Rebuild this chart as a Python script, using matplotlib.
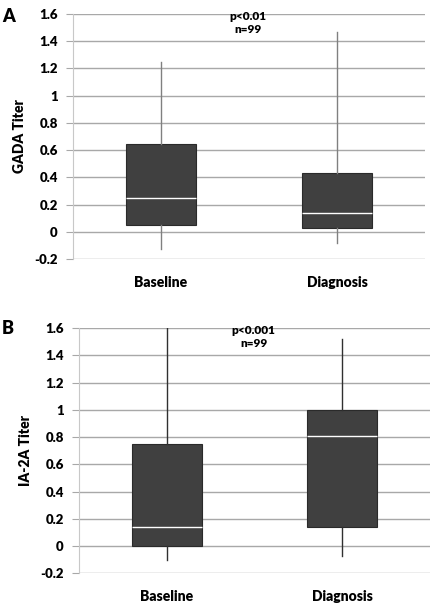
import matplotlib.pyplot as plt

plt.rcParams['font.family'] = ['Lato', 'DejaVu Sans']
plt.rcParams['font.weight'] = 'heavy'

groups = ['Baseline', 'Diagnosis']

# panel A - GADA titer (whisker low, q1, median, q3, whisker high)
gada_low = [-0.13, -0.08]
gada_q1 = [0.05, 0.03]
gada_med = [0.25, 0.14]
gada_q3 = [0.645, 0.43]
gada_high = [1.25, 1.47]

# panel B - IA-2A titer
ia2a_low = [-0.10, -0.07]
ia2a_q1 = [0.0, 0.14]
ia2a_med = [0.14, 0.81]
ia2a_q3 = [0.75, 1.0]
ia2a_high = [1.6, 1.52]

yticks = [-0.2, 0, 0.2, 0.4, 0.6, 0.8, 1, 1.2, 1.4, 1.6]
ytick_labels = ['-0.2', '0', '0.2', '0.4', '0.6', '0.8', '1', '1.2', '1.4', '1.6']

fig = plt.figure(figsize=(4.4, 6.03), dpi=100)
axA = fig.add_axes([0.166, 0.5705, 0.800, 0.4063])
axB = fig.add_axes([0.1795, 0.0492, 0.7977, 0.4068])


def draw(ax, low, q1, med, q3, high, ylabel, ptext, whisk_col):
    stats = []
    for i in range(len(groups)):
        stats.append(dict(whislo=low[i], q1=q1[i], med=med[i], q3=q3[i],
                          whishi=high[i], fliers=[], label=groups[i]))
    ax.bxp(stats, positions=[0.5, 1.5], widths=0.4, patch_artist=True,
           showcaps=False, showfliers=False,
           boxprops=dict(facecolor='#404040', edgecolor='#2a2a2a', linewidth=0.8),
           medianprops=dict(color='white', linewidth=1.0),
           whiskerprops=dict(color=whisk_col, linewidth=1.0))
    ax.set_xlim(0, 2)
    ax.set_ylim(-0.2, 1.6)
    ax.set_yticks(yticks)
    ax.set_yticklabels(ytick_labels, fontsize=9.5, fontweight='heavy')
    ax.yaxis.grid(True, color='#a8a8a8', linewidth=1.0)
    ax.set_axisbelow(True)
    for s in ['top', 'right', 'bottom']:
        ax.spines[s].set_visible(False)
    ax.spines['left'].set_color('#c8c8c8')
    ax.tick_params(axis='y', length=5, color='#a8a8a8', pad=6)
    ax.tick_params(axis='x', length=0, pad=12, labelsize=10)
    for lab in ax.get_xticklabels():
        lab.set_fontweight('heavy')
    ax.set_ylabel(ylabel, fontsize=10, fontweight='heavy', labelpad=6)
    ax.text(0.995, 1.625, ptext, ha='center', va='top', fontsize=8.5,
            fontweight='heavy', linespacing=1.3)


draw(axA, gada_low, gada_q1, gada_med, gada_q3, gada_high,
     'GADA Titer', 'p<0.01\nn=99', '#808080')
draw(axB, ia2a_low, ia2a_q1, ia2a_med, ia2a_q3, ia2a_high,
     'IA-2A Titer', 'p<0.001\nn=99', '#303030')

fig.text(0.005, 0.972, 'A', fontsize=13, fontweight='heavy', va='center')
fig.text(0.005, 0.456, 'B', fontsize=13, fontweight='heavy', va='center')

fig.savefig('out.png', dpi=100)
